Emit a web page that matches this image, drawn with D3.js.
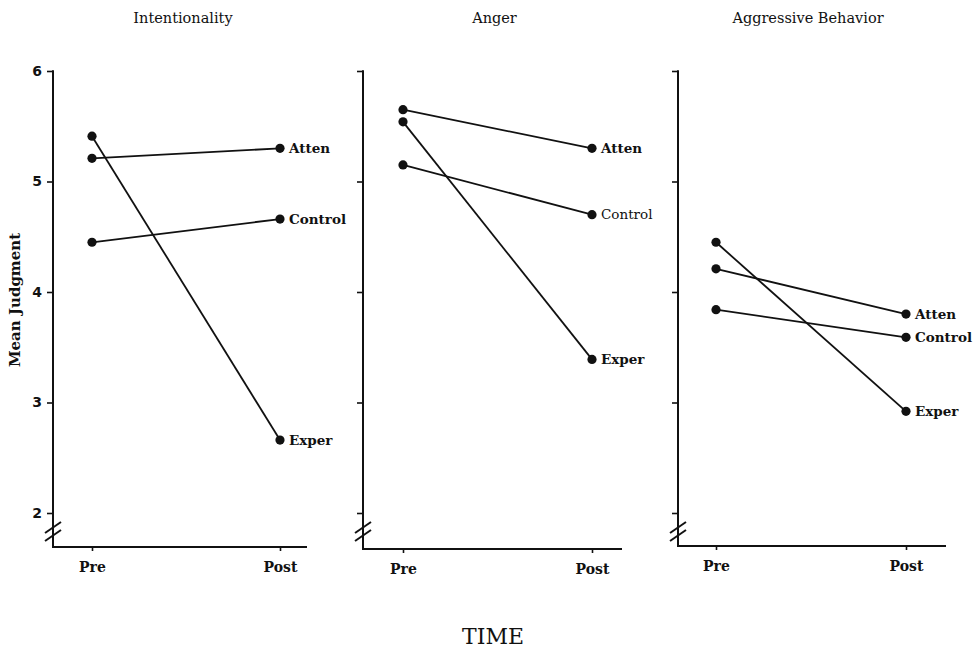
<!DOCTYPE html>
<html>
<head>
<meta charset="utf-8">
<script src="https://cdn.jsdelivr.net/npm/d3@7"></script>
<style>
  body { margin: 0; background: #fff; }
  svg { display: block; }
  text { font-family: "DejaVu Serif", "Liberation Serif", serif; fill: #111; }
</style>
</head>
<body>
<script>
// values
var panels = ["Intentionality", "Anger", "Aggressive Behavior"];
var times = ["Pre", "Post"];
var groups = ["Atten", "Control", "Exper"];
var yTicks = [2, 3, 4, 5, 6];

var intentionality = { Atten: [5.21, 5.30], Control: [4.45, 4.66], Exper: [5.41, 2.66] };
var anger = { Atten: [5.65, 5.30], Control: [5.15, 4.70], Exper: [5.54, 3.39] };
var aggression = { Atten: [4.21, 3.80], Control: [3.84, 3.59], Exper: [4.45, 2.92] };
var panelData = [intentionality, anger, aggression];

// layout of each little plot
var layout = [
  { ax: 53, pre: 92, post: 280, end: 307, base: 547 },
  { ax: 363, pre: 403, post: 592, end: 622, base: 549 },
  { ax: 678, pre: 716, post: 906, end: 946, base: 546 }
];

var svg = d3.select("body").append("svg")
  .attr("width", 976)
  .attr("height", 648);

var y = d3.scaleLinear().domain([2, 6]).range([513, 71]);

layout.forEach(function(L, p) {
  var g = svg.append("g");
  var x = d3.scalePoint().domain(times).range([L.pre, L.post]);

  // title
  g.append("text")
    .attr("x", (L.pre + L.post) / 2 - 3)
    .attr("y", 23)
    .attr("text-anchor", "middle")
    .style("font-family", "DejaVu Serif, serif")
    .style("font-size", "14.5px")
    .text(panels[p]);

  // y axis
  var yAxis = d3.axisLeft(y).tickValues(yTicks).tickSize(6).tickPadding(5)
    .tickFormat(d3.format("d"));
  if (p > 0) yAxis.tickFormat("");
  var ya = g.append("g")
    .attr("transform", "translate(" + L.ax + ",0)")
    .call(yAxis);
  ya.select(".domain").remove();
  ya.selectAll("line").attr("stroke", "#111").attr("stroke-width", 1.6);
  ya.selectAll("text")
    .style("font-family", "DejaVu Sans, sans-serif")
    .style("font-weight", "bold")
    .style("font-size", "14px");

  g.append("line")
    .attr("x1", L.ax).attr("x2", L.ax)
    .attr("y1", y(6) - 0.8).attr("y2", L.base)
    .attr("stroke", "#111").attr("stroke-width", 2);

  // axis break marks
  [0, 8].forEach(function(dy) {
    g.append("line")
      .attr("x1", L.ax - 8).attr("y1", 533 + dy)
      .attr("x2", L.ax + 8).attr("y2", 522 + dy)
      .attr("stroke", "#111").attr("stroke-width", 2);
  });

  // x axis
  var xAxis = d3.axisBottom(x).tickSize(4).tickPadding(11);
  var xa = g.append("g")
    .attr("transform", "translate(0," + L.base + ")")
    .call(xAxis);
  xa.select(".domain").remove();
  xa.selectAll("line").attr("stroke", "#111").attr("stroke-width", 1.6);
  xa.selectAll("text")
    .style("font-family", "DejaVu Serif, serif")
    .style("font-weight", "bold")
    .style("font-size", "14px");

  g.append("line")
    .attr("x1", L.ax - 1).attr("x2", L.end)
    .attr("y1", L.base).attr("y2", L.base)
    .attr("stroke", "#111").attr("stroke-width", 2);

  // series
  var d = panelData[p];
  var series = groups.map(function(k) { return { name: k, values: d[k] }; });

  var line = d3.line()
    .x(function(v, i) { return x(times[i]); })
    .y(function(v) { return y(v); });

  g.selectAll(".series")
    .data(series)
    .enter()
    .append("path")
    .attr("d", function(s) { return line(s.values); })
    .attr("fill", "none")
    .attr("stroke", "#111")
    .attr("stroke-width", 1.8);

  series.forEach(function(s) {
    g.selectAll(null)
      .data(s.values)
      .enter()
      .append("circle")
      .attr("cx", function(v, i) { return x(times[i]); })
      .attr("cy", function(v) { return y(v); })
      .attr("r", 4.6)
      .attr("fill", "#111");

    g.append("text")
      .attr("x", x("Post") + 9)
      .attr("y", y(s.values[1]))
      .attr("dy", "0.35em")
      .style("font-size", "13.5px")
      .style("font-weight", (p === 1 && s.name === "Control") ? "normal" : "bold")
      .text(s.name);
  });
});

// shared labels
svg.append("text")
  .attr("transform", "translate(20,300) rotate(-90)")
  .attr("text-anchor", "middle")
  .style("font-size", "15px")
  .style("font-weight", "bold")
  .text("Mean Judgment");

svg.append("text")
  .attr("x", 493)
  .attr("y", 644)
  .attr("text-anchor", "middle")
  .style("font-size", "22px")
  .text("TIME");
</script>
</body>
</html>
